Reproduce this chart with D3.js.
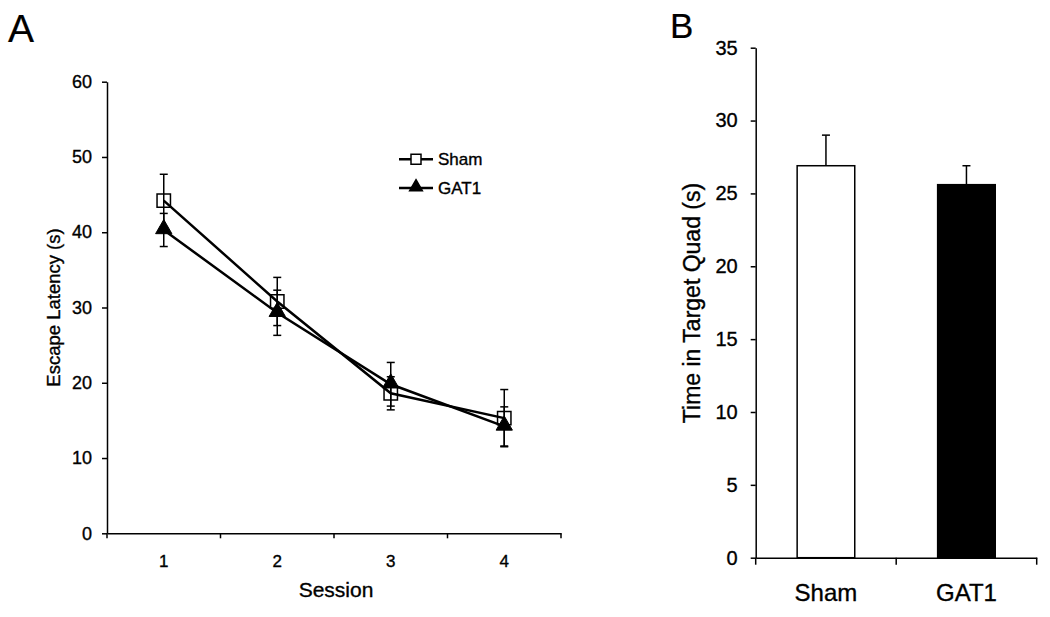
<!DOCTYPE html>
<html>
<head>
<meta charset="utf-8">
<script src="https://cdn.jsdelivr.net/npm/d3@7"></script>
<style>
  html, body { margin: 0; padding: 0; background: #fff; }
  svg { display: block; font-family: "Liberation Sans", Arial, sans-serif; }
  svg text { stroke: #000; stroke-width: 0.35px; fill: #000; }
</style>
</head>
<body>
<svg id="chart" width="1050" height="617"></svg>
<script>
// ---- Panel A data ----
const sessions = ["1", "2", "3", "4"];
const shamLatency = [44.2, 30.8, 18.6, 15.3];
const shamLatencyErr = [3.5, 3.2, 2.2, 3.8];
const gatLatency = [40.3, 29.3, 19.8, 14.2];
const gatLatencyErr = [2.2, 3.0, 2.9, 2.6];
const latencyTicks = [0, 10, 20, 30, 40, 50, 60];

// ---- Panel B data ----
const groups = ["Sham", "GAT1"];
const targetTime = [26.9, 25.6];
const targetTimeErr = [2.1, 1.3];
const targetTicks = [0, 5, 10, 15, 20, 25, 30, 35];

const svg = d3.select("#chart");
const FONT = "Liberation Sans, Arial, sans-serif";

// ================= Panel A =================
const A = { left: 107, right: 561, top: 81.7, bottom: 533.3 };
const xA = d3.scaleBand().domain(sessions).range([A.left, A.right]);
const yA = d3.scaleLinear().domain([0, 60]).range([A.bottom, A.top]);

const gA = svg.append("g");

const yAxisA = gA.append("g").attr("transform", `translate(${A.left},0)`)
  .call(d3.axisLeft(yA).tickValues(latencyTicks).tickSize(5).tickPadding(10).tickSizeOuter(0));
const xAxisA = gA.append("g").attr("transform", `translate(0,${A.bottom})`)
  .call(d3.axisBottom(xA).tickSize(0).tickPadding(22).tickSizeOuter(0));
gA.selectAll(".xbound").data(sessions.concat(["end"])).enter().append("line")
  .attr("x1", (d, i) => i < sessions.length ? xA(d) : A.right)
  .attr("x2", (d, i) => i < sessions.length ? xA(d) : A.right)
  .attr("y1", A.bottom).attr("y2", A.bottom + 5)
  .attr("stroke", "#000").attr("stroke-width", 1.5);

[yAxisA, xAxisA].forEach(ax => {
  ax.select(".domain").attr("stroke", "#000").attr("stroke-width", 1.5);
  ax.selectAll(".tick line").attr("stroke", "#000").attr("stroke-width", 1.5);
  ax.selectAll(".tick text").attr("fill", "#000").style("font-size", "18px")
    .style("font-family", FONT);
});
xAxisA.selectAll(".tick text").style("font-size", "17px");

gA.append("text").attr("x", 336).attr("y", 597).attr("text-anchor", "middle")
  .style("font-size", "21px").text("Session");
gA.append("text").attr("transform", `translate(60,307.5) rotate(-90)`)
  .attr("text-anchor", "middle").style("font-size", "18.5px").text("Escape Latency (s)");
gA.append("text").attr("x", 8).attr("y", 42).style("font-size", "39px")
  .style("stroke-width", "0.2px").text("A");

const cx = d => xA(d) + xA.bandwidth() / 2;
const line = d3.line().x(d => cx(d.s)).y(d => yA(d.v));

const seriesA = [
  { name: "Sham", vals: shamLatency, err: shamLatencyErr, marker: "square" },
  { name: "GAT1", vals: gatLatency, err: gatLatencyErr, marker: "triangle" }
];

seriesA.forEach(s => {
  const data = sessions.map((d, i) => ({ s: d, v: s.vals[i], e: s.err[i] }));
  const eb = gA.append("g");
  eb.selectAll("line.v").data(data).enter().append("line")
    .attr("x1", d => cx(d.s)).attr("x2", d => cx(d.s))
    .attr("y1", d => yA(d.v - d.e)).attr("y2", d => yA(d.v + d.e))
    .attr("stroke", "#000").attr("stroke-width", 1.5);
  ["top", "bot"].forEach(k => {
    eb.selectAll("line." + k).data(data).enter().append("line")
      .attr("x1", d => cx(d.s) - 4).attr("x2", d => cx(d.s) + 4)
      .attr("y1", d => yA(k === "top" ? d.v + d.e : d.v - d.e))
      .attr("y2", d => yA(k === "top" ? d.v + d.e : d.v - d.e))
      .attr("stroke", "#000").attr("stroke-width", 1.5);
  });
});

seriesA.forEach(s => {
  const data = sessions.map((d, i) => ({ s: d, v: s.vals[i] }));
  gA.append("path").datum(data).attr("d", line)
    .attr("fill", "none").attr("stroke", "#000").attr("stroke-width", 2.5);
});

const sq = d3.symbol().type(d3.symbolSquare).size(180);
const tri = d3.symbol().type(d3.symbolTriangle).size(115);
seriesA.forEach(s => {
  const data = sessions.map((d, i) => ({ s: d, v: s.vals[i] }));
  gA.selectAll(null).data(data).enter().append("path")
    .attr("transform", d => `translate(${cx(d.s)},${yA(d.v) + (s.marker === "triangle" ? -1 : 0)})`)
    .attr("d", s.marker === "square" ? sq : tri)
    .attr("fill", s.marker === "square" ? "none" : "#000")
    .attr("stroke", "#000").attr("stroke-width", s.marker === "square" ? 1.5 : 1);
});

const legend = gA.append("g");
seriesA.forEach((s, i) => {
  const ly = 159.3 + i * 28.7;
  legend.append("line").attr("x1", 399).attr("x2", 433).attr("y1", ly).attr("y2", ly)
    .attr("stroke", "#000").attr("stroke-width", 2.5);
  legend.append("path").attr("transform", `translate(416,${ly + (s.marker === "triangle" ? -1 : 0)})`)
    .attr("d", s.marker === "square" ? d3.symbol().type(d3.symbolSquare).size(100) : d3.symbol().type(d3.symbolTriangle).size(70))
    .attr("fill", s.marker === "square" ? "#fff" : "#000")
    .attr("stroke", "#000").attr("stroke-width", 1.5);
  legend.append("text").attr("x", 438).attr("y", ly + 6).style("font-size", "17px").text(s.name);
});

// ================= Panel B =================
const B = { left: 755.7, right: 1036.7, top: 47.7, bottom: 557.7 };
const xB = d3.scaleBand().domain(groups).range([B.left, B.right]).paddingInner(0.59).paddingOuter(0.295);
const xBAxisScale = d3.scaleBand().domain(groups).range([B.left, B.right]);
const yB = d3.scaleLinear().domain([0, 35]).range([B.bottom, B.top]);

const gB = svg.append("g");
const yAxisB = gB.append("g").attr("transform", `translate(${B.left},0)`)
  .call(d3.axisLeft(yB).tickValues(targetTicks).tickSize(5).tickPadding(13).tickSizeOuter(0));
const xAxisB = gB.append("g").attr("transform", `translate(0,${B.bottom})`)
  .call(d3.axisBottom(xBAxisScale).tickSize(0).tickPadding(26).tickSizeOuter(0));
gB.selectAll(".xbound").data(groups.concat(["end"])).enter().append("line")
  .attr("x1", (d, i) => i < groups.length ? xBAxisScale(d) : B.right)
  .attr("x2", (d, i) => i < groups.length ? xBAxisScale(d) : B.right)
  .attr("y1", B.bottom).attr("y2", B.bottom + 7)
  .attr("stroke", "#000").attr("stroke-width", 1.5);

[yAxisB, xAxisB].forEach(ax => {
  ax.select(".domain").attr("stroke", "#000").attr("stroke-width", 1.5);
  ax.selectAll(".tick line").attr("stroke", "#000").attr("stroke-width", 1.5);
  ax.selectAll(".tick text").attr("fill", "#000").style("font-size", "20px")
    .style("font-family", FONT);
});
xAxisB.selectAll(".tick text").style("font-size", "24px");

gB.append("text").attr("transform", `translate(700,303) rotate(-90)`)
  .attr("text-anchor", "middle").style("font-size", "23px").text("Time in Target Quad (s)");
gB.append("text").attr("x", 670).attr("y", 38).style("font-size", "35px")
  .style("stroke-width", "0.2px").text("B");

const barData = groups.map((g, i) => ({ g, v: targetTime[i], e: targetTimeErr[i] }));
const bcx = d => xB(d.g) + xB.bandwidth() / 2;

gB.selectAll("line.eb").data(barData).enter().append("line")
  .attr("x1", bcx).attr("x2", bcx)
  .attr("y1", d => yB(d.v)).attr("y2", d => yB(d.v + d.e))
  .attr("stroke", "#000").attr("stroke-width", 1.5);
gB.selectAll("line.cap").data(barData).enter().append("line")
  .attr("x1", d => bcx(d) - 4).attr("x2", d => bcx(d) + 4)
  .attr("y1", d => yB(d.v + d.e)).attr("y2", d => yB(d.v + d.e))
  .attr("stroke", "#000").attr("stroke-width", 1.5);

gB.selectAll("rect.bar").data(barData).enter().append("rect")
  .attr("x", d => xB(d.g)).attr("width", xB.bandwidth())
  .attr("y", d => yB(d.v)).attr("height", d => yB(0) - yB(d.v))
  .attr("fill", (d, i) => i === 0 ? "#fff" : "#000")
  .attr("stroke", "#000").attr("stroke-width", 1.5);
</script>
</body>
</html>
